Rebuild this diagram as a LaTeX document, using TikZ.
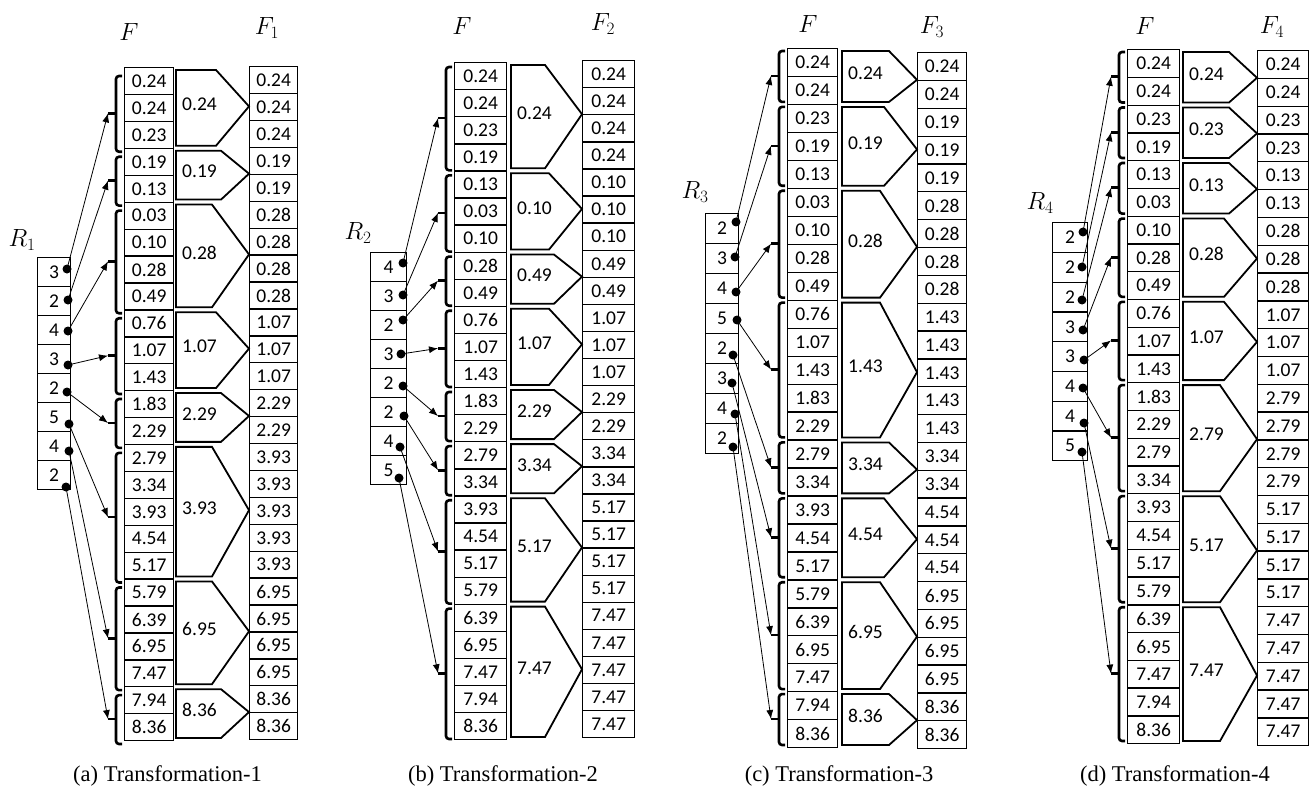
\documentclass[tikz,border=0pt]{standalone}
\usepackage{fontspec}
\setmainfont{Liberation Serif}
\newfontfamily\cellfont{Carlito}
\usetikzlibrary{arrows.meta}
\tikzset{
  cell/.style={draw=black, line width=1.3pt, inner sep=0pt, anchor=north west, font=\cellfont\fontsize{19.5}{19.5}\selectfont},
  pent/.style={draw=black, line width=1.8pt, line join=miter},
  brc/.style={draw=black, line width=2.6pt, rounded corners=3pt},
  tickline/.style={draw=black, line width=2.6pt},
  arr/.style={draw=black, line width=0.8pt, -{Latex[length=9pt,width=7pt]}},
  dotn/.style={circle, fill=black, inner sep=0pt, minimum size=9pt},
  plab/.style={font=\cellfont\fontsize{19.5}{19.5}\selectfont, anchor=west, inner sep=0pt},
  mlab/.style={font=\fontsize{23}{23}\selectfont, inner sep=0pt},
  capt/.style={font=\fontsize{22.5}{22.5}\selectfont, inner sep=0pt},
}
\def\Fvals{0.24,0.24,0.23,0.19,0.13,0.03,0.10,0.28,0.49,0.76,1.07,1.43,1.83,2.29,2.79,3.34,3.93,4.54,5.17,5.79,6.39,6.95,7.47,7.94,8.36}
\newcommand\drawpanel{%
  \pgfmathsetmacro\rh{(\Fb-\Ft)/25}%
  \pgfmathsetmacro\grh{(\Gb-\Gt)/25}%
  \pgfmathsetmacro\rrh{(\Rb-\Rt)/8}%
  \pgfmathsetmacro\Fw{\Fr-\Fl}%
  \pgfmathsetmacro\Gw{\Gr-\Gl}%
  \pgfmathsetmacro\Rw{\Rr-\Rl}%
  \foreach \fv [count=\i from 0] in \Fvals {%
    \pgfmathsetmacro\yy{\Ft+\i*\rh}%
    \node[cell, minimum width=\Fw pt, minimum height=\rh pt] (\pid-F-\i) at (\Fl,\yy) {\fv};
  }%
  \foreach \s/\n/\val [count=\k] in \groups {%
    \pgfmathtruncatemacro\jend{\s+\n-1}%
    \foreach \j in {\s,...,\jend} {%
      \pgfmathsetmacro\yy{\Gt+\j*\grh}%
      \node[cell, minimum width=\Gw pt, minimum height=\grh pt] (\pid-G-\j) at (\Gl,\yy) {\val};
    }%
    \pgfmathsetmacro\gtop{\Ft+\s*\rh}%
    \pgfmathsetmacro\gbot{\Ft+(\s+\n)*\rh}%
    \pgfmathsetmacro\gcen{(\gtop+\gbot)/2}%
    \pgfmathsetmacro\tipy{\Gt+(\s+\n/2)*\grh}%
    \pgfmathsetmacro\pdx{min(37,18+5*\n)}%
    \draw[pent] (\Pl,\gtop+3) -- (\Gl-\pdx,\gtop+3) -- (\Gl,\tipy) -- (\Gl-\pdx,\gbot-2) -- (\Pl,\gbot-2) -- cycle;
    \node[plab] (\pid-P-\k) at (\Pl+6,\gcen-3) {\val};
    \pgfmathsetmacro\btop{\gtop+3+\toff}%
    \pgfmathsetmacro\bbot{\gbot-2+\toff}%
    \pgfmathsetmacro\btick{\gcen+\toff}%
    \draw[brc] (\Fl-2,\btop) -- (\Fl-8,\btop) -- (\Fl-8,\bbot) -- (\Fl-2,\bbot);
    \coordinate (\pid-B-\k) at (\Fl-16,\btick);
    \draw[tickline] (\Fl-8,\btick) -- (\pid-B-\k);
  }%
  \foreach \rv/\dpx/\dpy [count=\k] in \dotlist {%
    \pgfmathsetmacro\yy{\Rt+(\k-1)*\rrh}%
    \node[cell, minimum width=\Rw pt, minimum height=\rrh pt] (\pid-R-\k) at (\Rl,\yy) {\rv};
    \node[dotn] (\pid-D-\k) at (\dpx,\dpy) {};
  }%
  \foreach \k in {1,...,8} {%
    \draw[arr] (\pid-D-\k.center) -- (\pid-B-\k);
  }%
}
\begin{document}
\begin{tikzpicture}[x=1pt,y=-1pt]
\useasboundingbox (0,0) rectangle (1313,794);
% ---------- panel a
\def\pid{a}\def\Fl{124}\def\Fr{173}\def\Ft{67}\def\Fb{740}
\def\Gl{249}\def\Gr{297}\def\Gt{66}\def\Gb{739}
\def\Rl{37}\def\Rr{70}\def\Rt{257}\def\Rb{489}\def\Pl{176}\def\toff{6}
\def\groups{0/3/0.24,3/2/0.19,5/4/0.28,9/3/1.07,12/2/2.29,14/5/3.93,19/4/6.95,23/2/8.36}
\def\dotlist{3/67/269,2/68/300,4/68/331,3/68/365,2/67/392,5/69/424,4/69/451,2/66/487}
\drawpanel
\node[mlab] (a-Flab) at (129,32) {$F$};
\node[mlab] (a-Glab) at (267,28) {$F_1$};
\node[mlab] (a-Rlab) at (22,240) {$R_1$};
\node[capt] (a-cap) at (167.5,776) {(a) Transformation-1};
% ---------- panel b
\def\pid{b}\def\Fl{454}\def\Fr{506}\def\Ft{62}\def\Fb{739}
\def\Gl{582}\def\Gr{634}\def\Gt{60}\def\Gb{737}
\def\Rl{370}\def\Rr{406}\def\Rt{252}\def\Rb{484}\def\Pl{511}\def\toff{2}
\def\groups{0/4/0.24,4/3/0.10,7/2/0.49,9/3/1.07,12/2/2.29,14/2/3.34,16/4/5.17,20/5/7.47}
\def\dotlist{4/403/263,3/403/295,2/403/320,3/401/354,2/403/386,2/404/416,4/400/447,5/399/478}
\drawpanel
\node[mlab] (b-Flab) at (462,26) {$F$};
\node[mlab] (b-Glab) at (603,24) {$F_2$};
\node[mlab] (b-Rlab) at (358,233) {$R_2$};
\node[capt] (b-cap) at (503,776) {(b) Transformation-2};
% ---------- panel c
\def\pid{c}\def\Fl{787}\def\Fr{837}\def\Ft{48}\def\Fb{747}
\def\Gl{917}\def\Gr{966}\def\Gt{52}\def\Gb{748}
\def\Rl{705}\def\Rr{738}\def\Rt{213}\def\Rb{453}\def\Pl{842}\def\toff{0}
\def\groups{0/2/0.24,2/3/0.19,5/4/0.28,9/5/1.43,14/2/3.34,16/3/4.54,19/4/6.95,23/2/8.36}
\def\dotlist{2/736/222,3/735/257,4/736/292,5/737/320,2/733/355,3/732/383,4/735/414,2/733/447}
\drawpanel
\node[mlab] (c-Flab) at (808,24) {$F$};
\node[mlab] (c-Glab) at (932,27) {$F_3$};
\node[mlab] (c-Rlab) at (695,192) {$R_3$};
\node[capt] (c-cap) at (839,776) {(c) Transformation-3};
% ---------- panel d
\def\pid{d}\def\Fl{1127}\def\Fr{1179}\def\Ft{49}\def\Fb{743}
\def\Gl{1257}\def\Gr{1308}\def\Gt{50}\def\Gb{745}
\def\Rl{1052}\def\Rr{1087}\def\Rt{222}\def\Rb{460}\def\Pl{1183}\def\toff{0}
\def\groups{0/2/0.24,2/2/0.23,4/2/0.13,6/3/0.28,9/3/1.07,12/4/2.79,16/4/5.17,20/5/7.47}
\def\dotlist{2/1083/232,2/1082/267,2/1082/300,3/1083/330,3/1084/360,4/1083/388,4/1084/423,5/1082/452}
\drawpanel
\node[mlab] (d-Flab) at (1145,26) {$F$};
\node[mlab] (d-Glab) at (1272,27) {$F_4$};
\node[mlab] (d-Rlab) at (1040,203) {$R_4$};
\node[capt] (d-cap) at (1175,776) {(d) Transformation-4};
\end{tikzpicture}
\end{document}
